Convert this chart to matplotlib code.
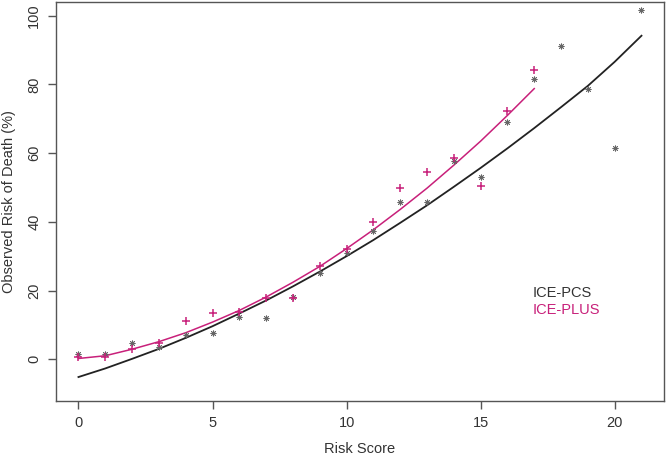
import numpy as np
import matplotlib
matplotlib.use("Agg")
import matplotlib.pyplot as plt

plt.rcParams['font.family'] = ['Liberation Sans', 'DejaVu Sans']

# observed points (risk score -> observed risk of death, %)
pcs_score = list(range(0, 22))
pcs_obs = [1.5, 1.5, 4.6, 3.6, 7.0, 7.7, 12.2, 11.9, 18.0, 25.0, 30.8,
           37.4, 45.9, 45.7, 57.7, 53.2, 69.1, 81.5, 91.1, 78.6, 61.5, 101.7]
plus_score = list(range(0, 18))
plus_obs = [0.5, 0.5, 3.1, 4.8, 11.2, 13.4, 13.6, 17.7, 17.9, 27.2, 32.1,
            39.9, 49.9, 54.4, 58.7, 50.5, 72.3, 84.1]

# fitted curves
pcs_fit = [-5.2, -2.7, 0.1, 3.0, 6.2, 9.6, 13.3, 17.1, 21.2, 25.5, 30.0,
           34.7, 39.7, 44.8, 50.2, 55.7, 61.4, 67.3, 73.4, 79.6, 86.6, 94.2]
plus_fit = [0.2, 1.0, 2.9, 5.1, 7.7, 10.8, 14.2, 18.1, 22.4, 27.0, 32.2,
            37.7, 43.6, 49.8, 56.5, 63.5, 71.0, 78.8]

labels = ['ICE-PCS', 'ICE-PLUS']
col_pcs = '#222222'
col_plus = '#C8207A'
axis_col = '#555555'
text_col = '#333333'

fig = plt.figure(figsize=(6.66, 4.61), dpi=100)
ax = fig.add_axes([0.084, 0.130, 0.913, 0.8655])

ax.plot(pcs_score, pcs_fit, color=col_pcs, lw=1.3)
ax.plot(plus_score, plus_fit, color=col_plus, lw=1.1)
ax.plot(pcs_score, pcs_obs, ls='none', marker=(8, 2, 0), ms=4.2,
        mew=0.6, color='#666666')
ax.plot(plus_score, plus_obs, ls='none', marker='+', ms=6,
        mew=1.1, color=col_plus)

ax.set_xlim(-0.84, 21.84)
ax.set_ylim(-12.2, 104)
ax.set_xticks([0, 5, 10, 15, 20])
ax.set_yticks([0, 20, 40, 60, 80, 100])

for s in ax.spines.values():
    s.set_color(axis_col)
    s.set_linewidth(1.0)
ax.tick_params(direction='out', length=5.5, width=1.0, color=axis_col,
               labelsize=10.5, labelcolor=text_col, pad=5)
for t in ax.get_yticklabels():
    t.set_rotation(90)
    t.set_va('center')

ax.set_xlabel('Risk Score', fontsize=10.5, color=text_col, labelpad=9)
ax.set_ylabel('Observed Risk of Death (%)', fontsize=10.5, color=text_col,
              labelpad=8)

ax.text(0.7845, 0.2714, labels[0], transform=ax.transAxes, color=text_col,
        fontsize=10.5, va='center', ha='left')
ax.text(0.7845, 0.228, labels[1], transform=ax.transAxes, color=col_plus,
        fontsize=10.5, va='center', ha='left')

fig.savefig('out.png', dpi=100)
